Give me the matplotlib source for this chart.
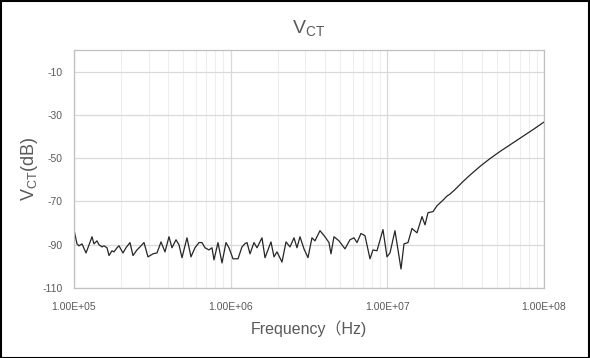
import numpy as np
import matplotlib
matplotlib.use("Agg")
import matplotlib.pyplot as plt
from matplotlib.patches import Rectangle
from matplotlib.ticker import LogLocator, FixedLocator, FixedFormatter

plt.rcParams['font.family'] = ['Liberation Sans', 'Noto Sans CJK JP', 'DejaVu Sans']
plt.rcParams['mathtext.default'] = 'regular'
plt.rcParams['axes.unicode_minus'] = False

# data (Hz, dB)
freq = [1.000e5, 1.045e5, 1.076e5, 1.125e5, 1.193e5, 1.228e5, 1.303e5, 1.342e5, 1.402e5, 1.444e5,
        1.509e5, 1.554e5, 1.624e5, 1.673e5, 1.748e5, 1.800e5, 1.882e5, 1.938e5, 2.055e5, 2.147e5,
        2.277e5, 2.380e5, 2.524e5, 2.638e5, 2.798e5, 2.967e5, 3.193e5, 3.387e5, 3.593e5, 3.810e5,
        4.040e5, 4.222e5, 4.479e5, 4.680e5, 4.891e5, 5.264e5, 5.582e5, 5.920e5, 6.281e5, 6.561e5,
        6.859e5, 7.272e5, 7.601e5, 7.828e5, 8.301e5, 8.805e5, 9.337e5, 9.759e5, 1.035e6, 1.114e6,
        1.181e6, 1.234e6, 1.272e6, 1.329e6, 1.409e6, 1.473e6, 1.585e6, 1.657e6, 1.809e6, 1.891e6,
        1.976e6, 2.127e6, 2.256e6, 2.392e6, 2.537e6, 2.651e6, 2.771e6, 2.938e6, 3.116e6, 3.304e6,
        3.453e6, 3.717e6, 4.000e6, 4.243e6, 4.369e6, 4.566e6, 4.915e6, 5.368e6, 5.776e6, 6.125e6,
        6.402e6, 6.789e6, 7.200e6, 7.752e6, 8.100e6, 8.590e6, 9.382e6, 9.952e6, 1.040e7, 1.119e7,
        1.223e7, 1.278e7, 1.355e7, 1.437e7, 1.547e7, 1.665e7, 1.740e7, 1.818e7, 1.957e7, 2.075e7,
        2.266e7, 2.404e7, 2.512e7, 2.704e7, 3.041e7, 3.372e7, 3.904e7, 4.521e7, 5.237e7, 6.724e7,
        8.507e7, 1.000e8]
vct = [-83.0, -89.6, -90.5, -89.6, -93.8, -91.4, -86.3, -89.6, -88.2, -90.0,
       -91.0, -90.5, -91.4, -95.0, -92.8, -93.3, -91.4, -90.5, -93.8, -91.4,
       -89.0, -95.0, -92.4, -91.0, -89.0, -95.6, -94.2, -93.8, -88.7, -93.3,
       -86.3, -91.4, -87.7, -90.0, -96.0, -86.8, -95.6, -91.4, -89.0, -89.0,
       -91.4, -92.4, -91.4, -97.0, -89.0, -98.4, -89.0, -91.4, -96.5, -96.5,
       -91.0, -89.5, -89.0, -94.2, -89.0, -91.4, -86.8, -96.0, -88.7, -95.6,
       -93.3, -98.0, -88.7, -91.0, -86.8, -91.4, -86.3, -91.9, -96.0, -86.8,
       -88.2, -83.5, -86.3, -89.0, -94.2, -86.3, -88.2, -91.9, -87.7, -86.8,
       -89.0, -84.8, -85.8, -96.5, -92.4, -92.8, -83.0, -95.6, -93.8, -83.5,
       -101.2, -89.6, -89.0, -82.5, -84.5, -77.0, -80.8, -75.2, -74.7, -72.0,
       -69.4, -67.5, -66.6, -64.5, -60.8, -57.8, -53.8, -50.2, -46.9, -41.7,
       -36.8, -33.3]

y_ticks = [-110, -90, -70, -50, -30, -10]
x_ticks = [1e5, 1e6, 1e7, 1e8]
x_labels = ['1.00E+05', '1.00E+06', '1.00E+07', '1.00E+08']

grey = '#595959'

fig = plt.figure(figsize=(5.9, 3.58), dpi=100)
ax = fig.add_axes([0.1254, 0.1955, 0.7966, 0.6648])

ax.plot(freq, vct, color='#262626', lw=0.9)

ax.set_xscale('log')
ax.set_xlim(1e5, 1e8)
ax.set_ylim(-110, 0)
ax.xaxis.set_major_locator(FixedLocator(x_ticks))
ax.xaxis.set_major_formatter(FixedFormatter(x_labels))
ax.xaxis.set_minor_locator(LogLocator(base=10, subs=np.arange(2, 10)))
ax.xaxis.set_minor_formatter(plt.NullFormatter())
ax.set_yticks(y_ticks)

ax.grid(which='major', axis='both', color='#d9d9d9', lw=0.9)
ax.grid(which='minor', axis='x', color='#eeeeee', lw=0.8)
ax.set_axisbelow(True)
for s in ax.spines.values():
    s.set_color('#c0c0c0')
    s.set_linewidth(0.9)

ax.tick_params(which='both', length=0, colors=grey, labelsize=7.5)
ax.tick_params(axis='x', pad=10)
ax.tick_params(axis='y', pad=8)

ax.set_title('V$_{CT}$', fontsize=14, color=grey, pad=12)
ax.set_xlabel('Frequency（Hz)', fontsize=11.5, color=grey, labelpad=6)
ax.set_ylabel('V$_{CT}$(dB)', fontsize=13, color=grey, labelpad=2)

fig.patches.append(Rectangle((0.001, 0.001), 0.997, 0.996, transform=fig.transFigure,
                             fill=False, edgecolor='black', lw=1.5))

fig.savefig('out.png', dpi=100)
